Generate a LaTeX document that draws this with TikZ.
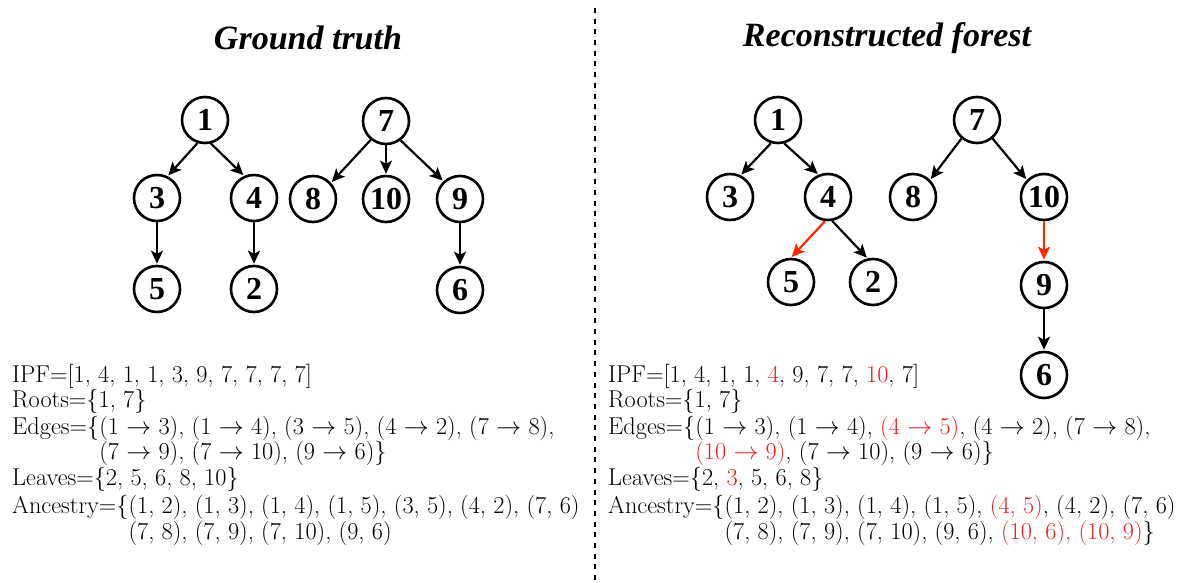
\documentclass[tikz,border=0pt]{standalone}
\usepackage{fontspec}
\usepackage{xcolor}
\usetikzlibrary{positioning,arrows.meta}
\newfontfamily\vtxfont{Liberation Serif}
\definecolor{edgered}{RGB}{255,40,0}
\definecolor{txtred}{RGB}{235,30,35}
\newcommand{\rd}[1]{\textcolor{txtred}{#1}}
\newcommand{\ar}{$\rightarrow$}

\begin{document}
\begin{tikzpicture}[x=1pt, y=-1pt, >={Stealth[length=13pt,width=12pt,inset=3pt]},
  node distance=80pt and 48pt, on grid,
  vtx/.style={draw, circle, line width=2.6pt, minimum size=46pt, inner sep=0pt,
    font=\vtxfont\bfseries\fontsize{32}{32}\selectfont},
  link/.style={->, line width=2.2pt, shorten >=1pt},
  changed/.style={link, draw=edgered},
  title/.style={font=\vtxfont\bfseries\itshape\fontsize{34}{34}\selectfont},
  info/.style={align=left, inner sep=0pt, anchor=north west,
    font=\fontsize{24.3}{25.5}\selectfont}]
  \useasboundingbox (0,0) rectangle (1189,583);

  % titles and divider
  \node[title] (gtitle) at (308,38) {Ground truth};
  \node[title] (rtitle) at (887,38) {Reconstructed forest};
  \draw[line width=2.7pt, dash pattern=on 5pt off 5.7pt] (595,8) -- (595,583);

  % ground truth
  \node[vtx] (g1) at (205,120) {1};
  \node[vtx, below left=78pt and 48pt of g1] (g3) {3};
  \node[vtx, below right=78pt and 49pt of g1] (g4) {4};
  \node[vtx, below=91pt of g3] (g5) {5};
  \node[vtx, below=91pt of g4] (g2) {2};
  \node[vtx] (g7) at (386,121) {7};
  \node[vtx, below left=78pt and 73pt of g7] (g8) {8};
  \node[vtx, below=78pt of g7] (g10) {10};
  \node[vtx, below right=78pt and 74pt of g7] (g9) {9};
  \node[vtx, below=91pt of g9] (g6) {6};

  \draw[link] (g1.-108) -- (g3.64);
  \draw[link] (g1.-76) -- (g4.114);
  \draw[link] (g3) -- (g5);
  \draw[link] (g4) -- (g2);
  \draw[link] (g7.-129) -- (g8.42);
  \draw[link] (g7) -- (g10);
  \draw[link] (g7.-53) -- (g9.133);
  \draw[link] (g9) -- (g6);

  % reconstructed forest
  \node[vtx] (r1) at (778,120) {1};
  \node[vtx, below left=77pt and 48pt of r1] (r3) {3};
  \node[vtx, below right=77pt and 50pt of r1] (r4) {4};
  \node[vtx, below left=85pt and 37pt of r4] (r5) {5};
  \node[vtx, below right=85pt and 45pt of r4] (r2) {2};
  \node[vtx] (r7) at (977,120) {7};
  \node[vtx, below left=77pt and 64pt of r7] (r8) {8};
  \node[vtx, below right=77pt and 67pt of r7] (r10) {10};
  \node[vtx, below=88pt of r10] (r9) {9};
  \node[vtx, below=90pt of r9] (r6) {6};

  \draw[link] (r1.-107) -- (r3.64);
  \draw[link] (r1.-75) -- (r4.113);
  \draw[changed] (r4.-97) -- (r5.90);
  \draw[link] (r4.-80) -- (r2.103);
  \draw[link] (r7.-130) -- (r8.45);
  \draw[link] (r7.-50) -- (r10.135);
  \draw[changed] (r10) -- (r9);
  \draw[link] (r9) -- (r6);

  % descriptions
  \node[info] (gtext) at (12,364) {IPF=[1, 4, 1, 1, 3, 9, 7, 7, 7, 7]\\
    Roots=\{1, 7\}\\[1pt]
    Edges=\{(1 \ar{} 3), (1 \ar{} 4), (3 \ar{} 5), (4 \ar{} 2), (7 \ar{} 8),\\
    \phantom{Edges=\{}(7 \ar{} 9), (7 \ar{} 10), (9 \ar{} 6)\}\\
    Leaves=\{2, 5, 6, 8, 10\}\\[3pt]
    Ancestry=\{(1, 2), (1, 3), (1, 4), (1, 5), (3, 5), (4, 2), (7, 6)\\
    \phantom{Ancestry=\{}(7, 8), (7, 9), (7, 10), (9, 6)};
  \node[info] (rtext) at (608,364) {IPF=[1, 4, 1, 1, \rd{4}, 9, 7, 7, \rd{10}, 7]\\
    Roots=\{1, 7\}\\[1pt]
    Edges=\{(1 \ar{} 3), (1 \ar{} 4), \rd{(4 \ar{} 5)}, (4 \ar{} 2), (7 \ar{} 8),\\
    \phantom{Edges=\{}\rd{(10 \ar{} 9)}, (7 \ar{} 10), (9 \ar{} 6)\}\\
    Leaves=\{2, \rd{3}, 5, 6, 8\}\\[3pt]
    Ancestry=\{(1, 2), (1, 3), (1, 4), (1, 5), \rd{(4, 5)}, (4, 2), (7, 6)\\
    \phantom{Ancestry=\{}(7, 8), (7, 9), (7, 10), (9, 6), \rd{(10, 6), (10, 9)}\}};
\end{tikzpicture}
\end{document}
